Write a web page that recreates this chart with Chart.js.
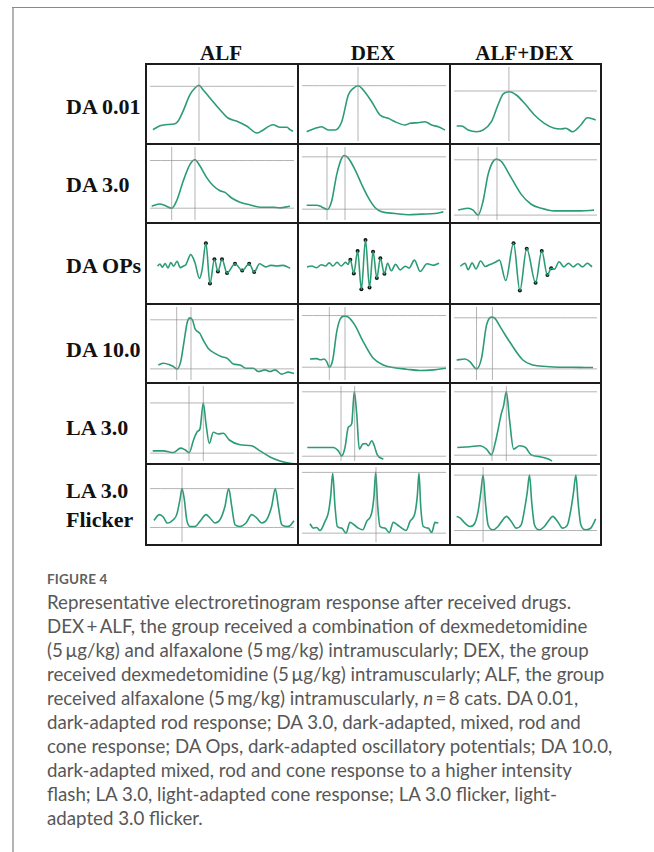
<!DOCTYPE html>
<html>
<head>
<meta charset="utf-8">
<script src="https://cdn.jsdelivr.net/npm/chart.js@4.4.1/dist/chart.umd.min.js"></script>
<style>
  html, body { margin: 0; padding: 0; background: #fff; }
  body { width: 654px; height: 852px; position: relative; overflow: hidden; }
  .abs { position: absolute; }
  .hdr { font: 700 21px "Liberation Serif", "Times New Roman", serif; color: #111; line-height: 21px; text-align: center; width: 140px; white-space: nowrap; }
  .rlab { font: 700 22px "Liberation Serif", "Times New Roman", serif; color: #111; line-height: 29px; white-space: nowrap; left: 66px; }
  .line { background: #1c1c1c; }
  #fig { left: 47px; top: 572px; font: 700 13.5px Lato, "Open Sans", sans-serif; color: #5f5f5f; line-height: 14px; letter-spacing: 0.2px; }
  #cap { left: 47px; top: 590px; font: 400 18.7px Lato, "Open Sans", sans-serif; color: #575757; line-height: 24px; white-space: nowrap; }
  canvas { position: absolute; }
</style>
</head>
<body>
<div class="abs" style="left:12px;top:7px;width:2px;height:845px;background:#b4b4b4"></div>
<div class="abs" style="left:12px;top:7px;width:642px;height:1px;background:#8a8a8a"></div>
<div id="stage"></div>
<div id="fig" class="abs">FIGURE 4</div>
<div id="cap" class="abs">Representative electroretinogram response after received drugs.<br>DEX&#8201;+&#8201;ALF, the group received a combination of dexmedetomidine<br>(5&#8201;µg/kg) and alfaxalone (5&#8201;mg/kg) intramuscularly; DEX, the group<br>received dexmedetomidine (5&#8201;µg/kg) intramuscularly; ALF, the group<br>received alfaxalone (5&#8201;mg/kg) intramuscularly, <i>n</i>&#8201;=&#8201;8 cats. DA 0.01,<br>dark-adapted rod response; DA 3.0, dark-adapted, mixed, rod and<br>cone response; DA Ops, dark-adapted oscillatory potentials; DA 10.0,<br>dark-adapted mixed, rod and cone response to a higher intensity<br>flash; LA 3.0, light-adapted cone response; LA 3.0 flicker, light-<br>adapted 3.0 flicker.</div>
<script>
// ---------- categories ----------
const groups = ["ALF", "DEX", "ALF+DEX"];
const protocols = ["DA 0.01", "DA 3.0", "DA OPs", "DA 10.0", "LA 3.0", "LA 3.0\nFlicker"];

// ---------- waveforms: [time, amplitude] (arbitrary units) ----------
const ALF_DA001 = [[7,14.3],[14,18.3],[19,19.3],[29,20.3],[32,22.7],[37,32.7],[44,49.3],[49,56],[53,58.7],[57,54.3],[64,46],[74,34.3],[82,26],[91,22.7],[101,17.7],[111,11],[116,13.3],[127,19.3],[134,16.7],[141,16.7],[144,14.3],[147,12.7]];
const DEX_DA001 = [[8.7,12.3],[15.3,15],[23.7,17.3],[30.3,14],[37,14],[43.7,22.3],[50.3,49],[55.3,55.7],[60.3,58.3],[65.3,54],[73.7,42.3],[82,29],[90.3,25.7],[97,22.3],[107,19],[112,20.7],[120.3,21.3],[127,22.3],[133.7,19],[140.3,17.3],[147,14]];
const COMBO_DA001 = [[6.7,18],[11.7,18],[18.3,14],[26.7,12.3],[33.3,14],[41.7,22.3],[48.3,39],[53.3,49.7],[60,52.3],[66.7,49],[75,40.7],[85,29],[95,20.7],[105,15.7],[111.7,15],[116.7,15.7],[123.3,12.3],[131.7,19],[138.3,26.3],[146.7,24]];

const ALF_DA3 = [[5.7,17],[14,19.3],[19,17.7],[25.7,15],[30.7,22.7],[37.3,42.7],[44,59.3],[49,64],[54,57.7],[60.7,46],[67.3,37.7],[74,32.7],[79,31],[85.7,25.3],[94,21],[104,18.3],[114,16],[127,16],[134,15.3],[144,17]];
const DEX_DA3 = [[8.7,18],[18.7,18],[23.7,16.3],[29.3,13.7],[33.7,22.3],[38.7,49],[43.7,65.7],[46.3,68.3],[50.3,65.7],[57,54],[63.7,39],[70.3,25.7],[77,15.7],[83.7,11.3],[97,9.7],[110.3,8.3],[123.7,9],[137,9.7],[145.3,11.3]];
const COMBO_DA3 = [[8.3,13.3],[18.3,15],[23.3,13],[28.3,8],[33.3,22.3],[38.3,49],[43.3,62.3],[46.7,64.7],[51.7,62.3],[61.7,45.7],[71.7,29],[81.7,19],[91.7,15],[105,12.3],[118.3,12.3],[131.7,12.3],[145,13]];

const ALF_OPS = [[8,37],[10.5,39.5],[13,36],[16,40],[19,35],[22,41],[25,37],[28.5,42.5],[32,35.5],[35,37],[38,39],[43,49.7],[47.3,41.3],[52.3,23.7],[55,33],[59,62.3],[63.3,18],[68,44.7],[71.7,31.3],[76,44.7],[81.3,29.7],[89.7,39.7],[97.3,32.3],[104.7,39.7],[110,30.7],[115.7,39.7],[122.3,36.3],[127.3,38],[134,37.3],[140.7,38],[148,34.7]];
const DEX_OPS = [[5.3,36.3],[10.3,37.3],[15.3,35.3],[20.3,38.7],[24.7,37.3],[28.7,40.7],[32.7,37.3],[37,41.3],[41.3,37.3],[46,41.3],[48.5,39],[51,44],[54.7,29],[58.7,53.7],[62.7,11.7],[67,65.7],[71.3,13.7],[75,53],[79,24],[82.7,45.7],[87,28.7],[90.3,40.3],[94.3,32],[98.7,39],[103.7,33],[109,37],[113,35],[118.7,43.7],[124.7,31.3],[132,39.7],[138.7,38],[144.7,40.3]];
const COMBO_OPS = [[6.7,37],[11.7,40.3],[15,33.3],[19.3,40.7],[23.3,34],[28.3,42.7],[33.3,36.7],[38.3,39],[43.3,41],[48.3,43.7],[55,21.3],[63.3,62.3],[70,10.3],[77.3,56.3],[86.7,19],[93.3,53.7],[99.3,27.3],[103.3,34.7],[106.7,33.7],[111.7,42],[116.7,36.3],[121.7,40.3],[126.7,36.3],[131.7,39.7],[136.7,36.3],[141.7,40.3],[146.7,36.3]];

const ALF_DA10 = [[12.3,18.3],[17.3,20],[24,18.3],[27.3,16.7],[31.3,14.3],[34.7,21.7],[38,41.7],[41.3,61.7],[44,66],[46.7,63.3],[49,55],[54,50],[57.3,43.3],[62.3,35],[69,30],[75.7,26.7],[81.3,25],[87.3,19.3],[94,18.3],[100,15],[107.3,15],[112.3,11.7],[119,13.3],[124,11.7],[129,13.3],[135.7,9],[142.3,11],[148,9.7]];
const DEX_DA10 = [[12,24.3],[18.7,24.7],[22.5,23.5],[26,24.3],[28.7,21.7],[31.3,16],[34.7,23.3],[38.7,51.7],[42,64.3],[46,67.7],[50.3,66.7],[57,58.3],[65.3,41.7],[75.3,25],[85.3,18.3],[95.3,15.7],[108.7,14],[122,12.7],[135.3,13.3],[148,15]];
const COMBO_DA10 = [[6.7,23.3],[15,24.3],[20,21.7],[26.7,14.3],[31.7,25],[36.7,58.3],[41.7,66.7],[45,65.7],[51.7,55],[60,41.7],[73.3,23.3],[83.3,18.3],[96.7,16.7],[110,16],[123.3,16],[136.7,15.7],[144,15.7]];

const ALF_LA3 = [[6.7,13],[17.3,13],[27.3,11.3],[34.7,15.7],[39,14],[43.3,11.3],[47.3,23],[51.3,32],[54,34.7],[57.3,60.3],[60,39.7],[63.3,20.3],[67.3,31.3],[72.3,29.7],[77.3,30.3],[83.3,23.7],[94,19],[105.7,18],[114,13],[124,7],[134,3],[144,0.7],[148,0.3]];
const DEX_LA3 = [[9.3,16.3],[22,16.3],[35.3,16.3],[40.3,13],[43.7,8],[47,16.3],[50.3,36.3],[53.7,39.7],[56.3,71.3],[58.7,49.7],[61.3,14.7],[64.7,19.7],[68,20.3],[70.3,18],[73.7,23],[76.3,18],[79.3,9],[85.3,4.7]];
const COMBO_LA3 = [[7.3,16.3],[20,17],[30,18],[36.7,14.7],[41.7,9],[46,23],[51.7,49.7],[54,57.7],[56.7,71.3],[60,43],[64,14.7],[70,18],[76,16.3],[81.7,9],[90,7.3],[98.3,5.3],[102.7,3]];

const ALF_FLK = [[8,24.3],[13.3,30],[17.3,27.7],[21.3,21.7],[27.3,25],[30.7,30],[34,45],[36,55.7],[38.3,45],[40.7,25],[44,18.3],[49,18.3],[54,23.3],[60,30],[64,26.7],[69,21.7],[74,25],[79,38.3],[82.7,55.7],[85.7,38.3],[89,20],[94,18.3],[100,21.7],[105.7,30],[110.7,26.7],[115.7,21.7],[120.7,25],[125.7,38.3],[129.3,55.7],[132.3,38.3],[135.7,20],[140.7,18.3],[144,19],[148,24]];
const DEX_FLK = [[12,21],[15.3,16.7],[18.7,17.3],[22,14.3],[27,23.3],[30.3,31.7],[32.7,48.3],[34.7,70.7],[37,38.3],[39.3,18.3],[43.7,16.7],[48,11.7],[52,22.3],[56,20],[60.3,16.7],[64.7,15],[68.7,23.3],[73.7,31.7],[76,48.3],[77.7,71.7],[79.7,38.3],[82,18.3],[87,16.7],[91.3,12.3],[95.3,22.3],[99.3,20],[103.7,16.7],[108,14.3],[112,23.3],[117,31.7],[119.3,48.3],[121,71],[122.7,38.3],[125.3,18.3],[130.3,16.7],[133.7,12.3],[137,22.3],[140.3,21.7]];
const COMBO_FLK = [[6.7,28.3],[10,26.7],[15,21.7],[20,18.3],[25,21.7],[28.3,33.3],[31,51.7],[33.3,69],[35.7,41.7],[38.3,20],[43.3,15],[48.3,18.3],[53.3,25],[56.7,28.3],[61.7,23.3],[66.7,16.7],[71.7,20],[75,35],[77.7,51.7],[80,69],[82.3,41.7],[85,20],[90,15],[95,18.3],[100,25],[103.3,28.3],[108.3,23.3],[113.3,16.7],[118.3,20],[121.7,35],[124.3,51.7],[126.7,69],[129,41.7],[131.7,20],[136.7,15],[141.7,16.7],[146.7,25.7]];

// ---------- marked oscillatory-potential peaks/troughs [time, amplitude] ----------
const ALF_OPS_MARKS = [[59,62.3],[63.3,18],[68,44.7],[71.7,31.3],[76,44.7],[81.3,29.7],[89.7,39.7],[97.3,32.3],[104.7,39.7],[110,30.7]];
const DEX_OPS_MARKS = [[51,44],[54.7,29],[58.7,53.7],[62.7,11.7],[67,65.7],[71.3,13.7],[75,53],[79,24],[82.7,45.7],[87,28.7]];
const COMBO_OPS_MARKS = [[63.3,62.3],[70,10.3],[77.3,56.3],[86.7,19],[93.3,53.7],[99.3,27.3],[103.3,34.7]];

// ---------- measurement cursors: horizontal amplitude levels & vertical times ----------
const ALF_DA001_LEVELS = [57.7], ALF_DA001_TIMES = [53];
const DEX_DA001_LEVELS = [58.3], DEX_DA001_TIMES = [60];
const COMBO_DA001_LEVELS = [53], COMBO_DA001_TIMES = [59.3];
const ALF_DA3_LEVELS = [63.3, 15], ALF_DA3_TIMES = [25.7, 49];
const DEX_DA3_LEVELS = [67, 14], DEX_DA3_TIMES = [29, 47];
const COMBO_DA3_LEVELS = [64, 8], COMBO_DA3_TIMES = [28.3, 47.3];
const ALF_DA10_LEVELS = [64, 14.3], ALF_DA10_TIMES = [30.7, 45];
const DEX_DA10_LEVELS = [68.3, 16], DEX_DA10_TIMES = [31.3, 47];
const COMBO_DA10_LEVELS = [66, 14.3], COMBO_DA10_TIMES = [26.7, 42.7];
const ALF_LA3_LEVELS = [60.3, 10.7], ALF_LA3_TIMES = [43, 57.3];
const DEX_LA3_LEVELS = [71.3, 7.7], DEX_LA3_TIMES = [43, 56.7];
const COMBO_LA3_LEVELS = [71.3, 8.7], COMBO_LA3_TIMES = [42.3, 56.7];
const ALF_FLK_LEVELS = [55.7, 17.3], ALF_FLK_TIMES = [36];
const DEX_FLK_LEVELS = [71.7, 11.7], DEX_FLK_TIMES = [78];
const COMBO_FLK_LEVELS = [69, 14.3], COMBO_FLK_TIMES = [33.3];

// ---------- panel table built from the arrays ----------
const panels = [
  [ {w:ALF_DA001, h:ALF_DA001_LEVELS, v:ALF_DA001_TIMES}, {w:DEX_DA001, h:DEX_DA001_LEVELS, v:DEX_DA001_TIMES}, {w:COMBO_DA001, h:COMBO_DA001_LEVELS, v:COMBO_DA001_TIMES} ],
  [ {w:ALF_DA3, h:ALF_DA3_LEVELS, v:ALF_DA3_TIMES}, {w:DEX_DA3, h:DEX_DA3_LEVELS, v:DEX_DA3_TIMES}, {w:COMBO_DA3, h:COMBO_DA3_LEVELS, v:COMBO_DA3_TIMES} ],
  [ {w:ALF_OPS, h:[], v:[], m:ALF_OPS_MARKS}, {w:DEX_OPS, h:[], v:[], m:DEX_OPS_MARKS}, {w:COMBO_OPS, h:[], v:[], m:COMBO_OPS_MARKS} ],
  [ {w:ALF_DA10, h:ALF_DA10_LEVELS, v:ALF_DA10_TIMES}, {w:DEX_DA10, h:DEX_DA10_LEVELS, v:DEX_DA10_TIMES}, {w:COMBO_DA10, h:COMBO_DA10_LEVELS, v:COMBO_DA10_TIMES} ],
  [ {w:ALF_LA3, h:ALF_LA3_LEVELS, v:ALF_LA3_TIMES}, {w:DEX_LA3, h:DEX_LA3_LEVELS, v:DEX_LA3_TIMES}, {w:COMBO_LA3, h:COMBO_LA3_LEVELS, v:COMBO_LA3_TIMES} ],
  [ {w:ALF_FLK, h:ALF_FLK_LEVELS, v:ALF_FLK_TIMES}, {w:DEX_FLK, h:DEX_FLK_LEVELS, v:DEX_FLK_TIMES}, {w:COMBO_FLK, h:COMBO_FLK_LEVELS, v:COMBO_FLK_TIMES} ]
];

// ---------- layout ----------
const colX = [146, 298, 450, 601];
const rowY = [64, 144, 223, 304, 383, 464, 545];
const labelTops = [96.4, 174, 255.4, 339.4, 417.4, 480.4];
const T_MIN = 0, T_MAX = 152, A_MIN = 0, A_MAX = 80;
const GREEN = "#2c9c74";
const CURSOR = "rgba(140,140,140,0.65)";

const stage = document.getElementById("stage");

groups.forEach((g, c) => {
  const d = document.createElement("div");
  d.className = "abs hdr";
  d.textContent = g;
  d.style.left = ((colX[c] + colX[c + 1]) / 2 - 1 - 70) + "px";
  d.style.top = "43px";
  stage.appendChild(d);
});

protocols.forEach((p, r) => {
  const d = document.createElement("div");
  d.className = "abs rlab";
  d.innerHTML = p.replace("\n", "<br>");
  d.style.top = (labelTops[r] - 4.5) + "px";
  stage.appendChild(d);
});

panels.forEach((row, r) => {
  row.forEach((pn, c) => {
    const cv = document.createElement("canvas");
    const w = colX[c + 1] - colX[c], h = rowY[r + 1] - rowY[r];
    cv.width = w; cv.height = h;
    cv.style.left = colX[c] + "px"; cv.style.top = rowY[r] + "px";
    cv.style.width = w + "px"; cv.style.height = h + "px";
    stage.appendChild(cv);
    const ds = [];
    pn.h.forEach(a => ds.push({ data: [{x: 4, y: a}, {x: 148, y: a}], showLine: true, borderColor: CURSOR, borderWidth: 1, pointRadius: 0 }));
    pn.v.forEach(t => ds.push({ data: [{x: t, y: 3}, {x: t, y: 77}], showLine: true, borderColor: CURSOR, borderWidth: 1, pointRadius: 0 }));
    ds.push({ data: pn.w.map(p => ({x: p[0], y: p[1]})), showLine: true, borderColor: GREEN, borderWidth: 1.6, pointRadius: 0, cubicInterpolationMode: "monotone" });
    if (pn.m) ds.push({ data: pn.m.map(p => ({x: p[0], y: p[1]})), showLine: false, pointRadius: 2, pointBackgroundColor: "#111", pointBorderColor: "#111", pointBorderWidth: 0 });
    new Chart(cv, {
      type: "scatter",
      data: { datasets: ds },
      options: {
        responsive: false, animation: false, devicePixelRatio: 1,
        layout: { padding: 0 },
        plugins: { legend: { display: false }, tooltip: { enabled: false } },
        scales: {
          x: { type: "linear", min: T_MIN, max: T_MAX, display: false },
          y: { type: "linear", min: A_MIN, max: A_MAX, display: false }
        },
        elements: { line: { tension: 0.4 } }
      }
    });
  });
});

// grid lines (drawn above the charts)
function addLine(l, t, w, h) {
  const d = document.createElement("div");
  d.className = "abs line";
  d.style.left = l + "px"; d.style.top = t + "px"; d.style.width = w + "px"; d.style.height = h + "px";
  stage.appendChild(d);
}
colX.forEach(x => addLine(x - 1, rowY[0] - 1, 2, rowY[6] - rowY[0] + 2));
rowY.forEach(y => addLine(colX[0] - 1, y - 1, colX[3] - colX[0] + 2, 2));
</script>
</body>
</html>
